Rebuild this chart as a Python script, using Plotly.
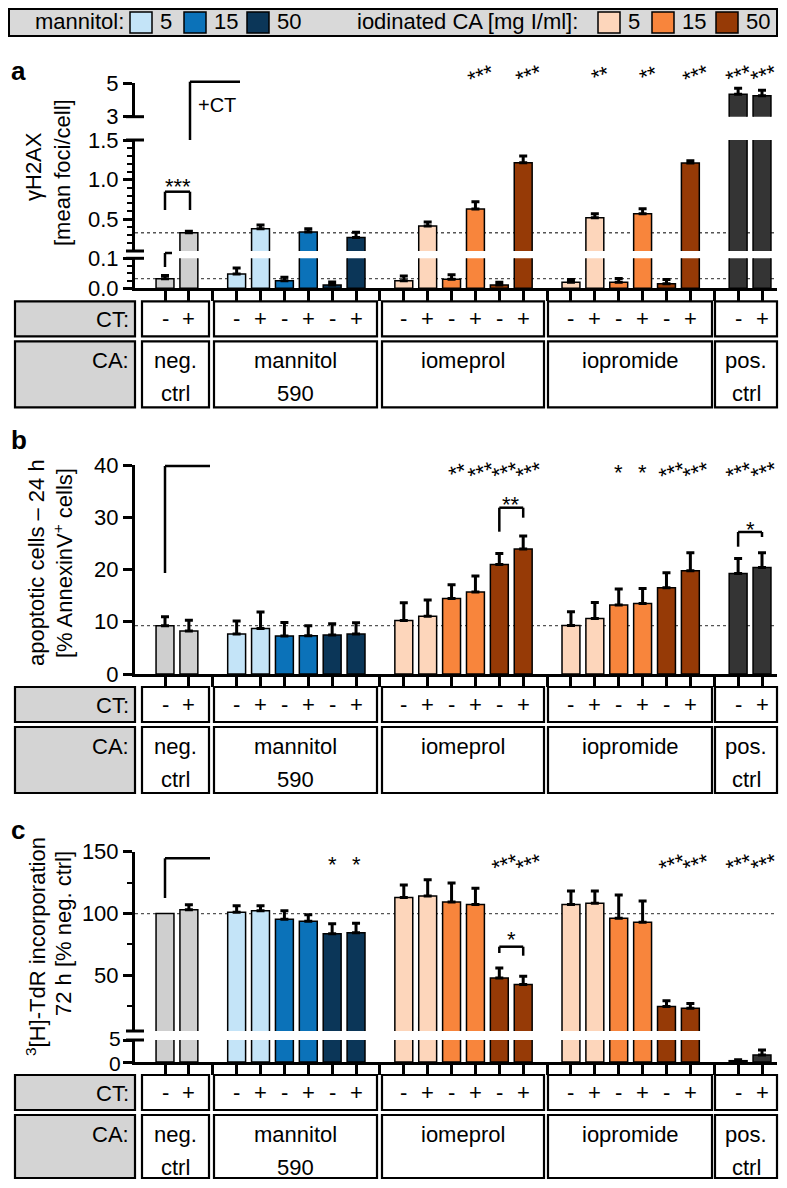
import plotly.graph_objects as go

# The page body has an 8px margin; keep the figure inside the body box so no scrolling happens.
OFF = 8
W, H = 787 - 2 * OFF, 1188 - 2 * OFF
FONT = "Liberation Sans, Arial, Helvetica, sans-serif"

# ---------------- data ----------------
groups = ["neg. ctrl", "mannitol 590", "iomeprol", "iopromide", "pos. ctrl"]
ct_labels = ["-", "+", "-", "+", "-", "+", "-", "+", "-", "+", "-", "+",
             "-", "+", "-", "+", "-", "+", "-", "+", "-", "+"]
bar_pos = [0, 1, 3, 4, 5, 6, 7, 8, 10, 11, 12, 13, 14, 15, 17, 18, 19, 20, 21, 22, 24, 25]
sep_pos = [2, 9, 16, 23]

gamma_h2ax = [0.032, 0.33, 0.048, 0.38, 0.025, 0.34, 0.011, 0.27,
              0.025, 0.415, 0.03, 0.63, 0.011, 1.213,
              0.02, 0.52, 0.02, 0.57, 0.015, 1.209,
              4.33, 4.25]
gamma_err = [0.011, 0.02, 0.02, 0.048, 0.012, 0.04, 0.01, 0.066,
             0.016, 0.051, 0.015, 0.09, 0.009, 0.084,
             0.009, 0.05, 0.013, 0.064, 0.014, 0.029,
             0.36, 0.32]

apoptosis = [9.24, 8.22, 7.65, 8.73, 7.27, 7.33, 7.46, 7.65,
             10.26, 11.03, 14.47, 15.68, 20.97, 23.9,
             9.3, 10.64, 13.19, 13.5, 16.5, 19.76,
             19.25, 20.4]
apoptosis_err = [1.72, 2.08, 2.48, 3.12, 2.61, 1.91, 2.16, 2.16,
                 3.38, 3.12, 2.61, 3.06, 2.1, 2.49,
                 2.62, 3.06, 3.06, 2.88, 2.87, 3.44,
                 2.87, 2.8]

thymidine = [100, 103, 101, 102.2, 95.4, 93.8, 83.7, 84.5,
             112.9, 114.2, 109.4, 107.2, 47.9, 42.6,
             107.2, 108.3, 96.2, 93.0, 24.9, 23.3,
             0.3, 1.6]
thymidine_err = [0, 4, 5.2, 4, 6.8, 5.2, 8, 7.7,
                 10.1, 13.2, 15.3, 13.2, 8.1, 6.7,
                 11.1, 10, 18.8, 17.2, 4.6, 4,
                 0.2, 1.1]

sig_a = {13: "***", 15: "***", 18: "**", 20: "**", 22: "***", 24: "***", 25: "***"}
sig_b = {12: "**", 13: "***", 14: "***", 15: "***", 19: "*", 20: "*", 21: "***", 22: "***", 24: "***", 25: "***"}
sig_c = {7: "*", 8: "*", 14: "***", 15: "***", 21: "***", 22: "***", 24: "***", 25: "***"}

GREY = "#cfcfcf"
M5, M15, M50 = "#c4e4f8", "#0b72b9", "#0b3658"
I5, I15, I50 = "#fdd6bb", "#f8853c", "#963a06"
POS = "#343434"
bar_colors = [GREY, GREY, M5, M5, M15, M15, M50, M50,
              I5, I5, I15, I15, I50, I50,
              I5, I5, I15, I15, I50, I50,
              POS, POS]

# ---------------- helpers (page pixel -> paper) ----------------
def P(x):
    return (x - OFF) / W


def Q(y):
    return 1 - (y - OFF) / H


X0PX, PITCH = 165.0, 23.88
XL, XR = 135.0, 777.0
xrange_ = [(XL - X0PX) / PITCH, (XR - X0PX) / PITCH]


def bx(v):
    return X0PX + PITCH * v


shapes = []
annots = []


def rect(x0, y0, x1, y1, fill="white", lw=2.2):
    shapes.append(dict(type="rect", xref="paper", yref="paper",
                       x0=P(x0), x1=P(x1), y0=Q(y1), y1=Q(y0),
                       line=dict(color="black", width=lw), fillcolor=fill, layer="above"))


def line(x0, y0, x1, y1, lw=2.5):
    shapes.append(dict(type="line", xref="paper", yref="paper",
                       x0=P(x0), x1=P(x1), y0=Q(y0), y1=Q(y1),
                       line=dict(color="black", width=lw), layer="above"))


def txt(x, y, s, size=22, xanchor="center", angle=0, bold=False):
    if bold:
        s = "<b>" + s + "</b>"
    annots.append(dict(x=P(x), y=Q(y), xref="paper", yref="paper", text=s,
                       showarrow=False, xanchor=xanchor, yanchor="middle",
                       textangle=angle, font=dict(family=FONT, size=size, color="black")))


fig = go.Figure()

# ---------------- axes ----------------
def yax(top, bot, rng, tickvals, ticktext, minor_vals, anchor, labels=True):
    d = dict(domain=[Q(bot), Q(top)], range=rng, anchor=anchor,
             showline=True, linewidth=3, linecolor="black",
             ticks="outside", ticklen=9, tickwidth=3, tickcolor="black",
             tickmode="array", tickvals=tickvals, ticktext=ticktext,
             showticklabels=labels,
             tickfont=dict(family=FONT, size=22, color="black"),
             showgrid=False, zeroline=False, automargin=False, fixedrange=True)
    if minor_vals:
        d["minor"] = dict(tickmode="array", tickvals=minor_vals, ticks="outside",
                          ticklen=5, tickwidth=2, tickcolor="black", showgrid=False)
    return d


def xax(anchor):
    return dict(domain=[P(XL), P(XR)], range=xrange_, anchor=anchor,
                showline=True, linewidth=3, linecolor="black",
                ticks="outside", ticklen=10, tickwidth=2.5, tickcolor="black",
                tickmode="array", tickvals=bar_pos + sep_pos, showticklabels=False,
                showgrid=False, zeroline=False, automargin=False, fixedrange=True)


layout_axes = dict(
    xaxis=xax("y"), xaxis2=xax("y4"), xaxis3=xax("y5"),
    yaxis=yax(258.3, 288.3, [0, 0.1], [0, 0.1], ["0.0", "0.1"], [0.025, 0.05, 0.075], "x"),
    yaxis2=yax(140, 251, [0.1, 1.5], [0.5, 1.0, 1.5], ["0.5", "1.0", "1.5"],
               [0.2, 0.3, 0.4, 0.6, 0.7, 0.8, 0.9, 1.1, 1.2, 1.3, 1.4], "x"),
    yaxis3=yax(83, 116.7, [3, 5], [3, 5], ["3", "5"], None, "x"),
    yaxis4=yax(465, 674, [0, 40], [0, 10, 20, 30, 40], ["0", "10", "20", "30", "40"], None, "x2"),
    yaxis5=yax(1040, 1062, [0, 5], [0, 5], ["0", "5"], None, "x3", labels=False),
    yaxis6=yax(851.7, 1031, [5, 150], [50, 100, 150], ["50", "100", "150"], [25, 75, 125], "x3"),
)


def add_panel(values, errs, xa, segs):
    # segs: list of (yaxis_id, lo, hi)
    for ya, lo, hi in segs:
        fig.add_trace(go.Bar(x=bar_pos, y=values, width=0.75, xaxis=xa, yaxis=ya,
                             marker=dict(color=bar_colors, line=dict(color="black", width=1.5)),
                             hoverinfo="skip", showlegend=False))
        sx, sy, se = [], [], []
        for p, v, e in zip(bar_pos, values, errs):
            if lo <= v < hi and e > 0:
                sx.append(p); sy.append(v); se.append(e)
        fig.add_trace(go.Scatter(x=sx, y=sy, xaxis=xa, yaxis=ya, mode="markers",
                                 marker=dict(size=1, color="rgba(0,0,0,0)"),
                                 error_y=dict(type="data", symmetric=False, array=se,
                                              arrayminus=[0] * len(se), thickness=3,
                                              width=4, color="black"),
                                 hoverinfo="skip", showlegend=False))


add_panel(gamma_h2ax, gamma_err, "x", [("y", 0, 0.1), ("y2", 0.1, 1.5), ("y3", 3, 5)])
add_panel(apoptosis, apoptosis_err, "x2", [("y4", 0, 40)])
add_panel(thymidine, thymidine_err, "x3", [("y5", 0, 5), ("y6", 5, 150)])

# dotted reference lines (neg. ctrl level)
for ya, v, xa in [("y", gamma_h2ax[0], "x"), ("y2", gamma_h2ax[1], "x"),
                  ("y4", apoptosis[0], "x2"), ("y6", thymidine[0], "x3")]:
    shapes.append(dict(type="line", xref=xa, yref=ya, x0=xrange_[0], x1=xrange_[1],
                       y0=v, y1=v, line=dict(color="#555555", width=1.3, dash="dot"),
                       layer="below"))

# axis break caps
for yb in [258.3, 251, 140, 116.7, 1040, 1031]:
    line(126, yb, 144, yb, lw=3)

# tick labels of the short lower segment of panel c (kept apart so they do not collide)
txt(123, 1063.5, "0", size=21, xanchor="right")
txt(123, 1038.5, "5", size=21, xanchor="right")

# ---------------- legend ----------------
rect(9, 9, 777, 36, fill="#d9d9d9", lw=2)
txt(33, 22, "mannitol:", xanchor="left")
for (sx, col, lab) in [(130, M5, "5"), (184, M15, "15"), (247, M50, "50"),
                       (598, I5, "5"), (652, I15, "15"), (716, I50, "50")]:
    rect(sx, 12, sx + 22, 33, fill=col, lw=1.5)
    txt(sx + 28, 22, lab, xanchor="left")
txt(355, 22, "iodinated CA [mg I/ml]:", xanchor="left")

# ---------------- tables ----------------
boxes = [(142, 209), (214, 377), (382, 544), (548, 712), (715, 777)]
ca_lines = [("neg.", "ctrl"), ("mannitol", "590"), ("iomeprol", ""), ("iopromide", ""), ("pos.", "ctrl")]


def table(Y0):
    bottom = min(Y0 + 119, 1178)
    rect(15, Y0 + 13, 135, Y0 + 48, fill="#d4d4d4")
    rect(15, Y0 + 53, 135, bottom, fill="#d4d4d4")
    txt(131, Y0 + 31, "CT:", xanchor="right")
    txt(131, Y0 + 72, "CA:", xanchor="right")
    for (a, b), (l1, l2) in zip(boxes, ca_lines):
        rect(a, Y0 + 13, b, Y0 + 48)
        rect(a, Y0 + 53, b, bottom)
        txt((a + b) / 2, Y0 + 72, l1)
        if l2:
            txt((a + b) / 2, Y0 + 105, l2)
    for p, s in zip(bar_pos, ct_labels):
        txt(bx(p), Y0 + 30, s)


table(288.3)
table(674)
table(1062)

# ---------------- titles & panel letters ----------------
txt(9, 71, "a", size=26, bold=True, xanchor="left")
txt(9, 440, "b", size=26, bold=True, xanchor="left")
txt(9, 830, "c", size=26, bold=True, xanchor="left")

txt(34, 167, "γH2AX", size=22, angle=-90)
txt(62, 173, "[mean foci/cell]", size=22, angle=-90)
txt(36, 563, "apoptotic cells – 24 h", size=22, angle=-90)
txt(63, 563, "[% AnnexinV<sup>+</sup> cells]", size=22, angle=-90)
txt(36, 947, "<sup>3</sup>[H]-TdR incorporation", size=22, angle=-90)
txt(63, 934, "72 h [% neg. ctrl]", size=22, angle=-90)

# ---------------- significance ----------------
def stars(sig, y):
    for idx, s in sig.items():
        off = 0 if len(s) == 1 else 6
        if idx == 24:
            off = 1
        xc = min(bx(idx) + off, 764)
        txt(xc, y + 6, s, size=22, angle=(0 if len(s) == 1 else -20))


stars(sig_a, 70)
stars(sig_b, 466)
stars(sig_c, 858)

# brackets panel a
line(165, 210, 165, 191.7); line(165, 191.7, 190, 191.7); line(190, 191.7, 190, 210)
txt(177.5, 186, "***", size=22)
line(165, 267, 165, 253); line(165, 253, 172, 253)
line(190, 140, 190, 81.7); line(190, 81.7, 240, 81.7)
txt(196, 105, "+CT", size=20, xanchor="left")

# brackets panel b
line(165, 573, 165, 466); line(165, 466, 210, 466)
line(bx(14), 531.7, bx(14), 507.7); line(bx(14), 507.7, bx(15), 507.7); line(bx(15), 507.7, bx(15), 517.7)
txt((bx(14) + bx(15)) / 2, 504, "**", size=22)
line(bx(24), 546.7, bx(24), 532); line(bx(24), 532, bx(25), 532); line(bx(25), 532, bx(25), 537)
txt((bx(24) + bx(25)) / 2, 529, "*", size=22)

# brackets panel c
line(165, 898, 165, 858.3); line(165, 858.3, 210, 858.3)
line(bx(14), 953, bx(14), 946.7); line(bx(14), 946.7, bx(15), 946.7); line(bx(15), 946.7, bx(15), 955.7)
txt((bx(14) + bx(15)) / 2, 940, "*", size=22)

fig.update_layout(width=W, height=H, margin=dict(l=0, r=0, t=0, b=0),
                  paper_bgcolor="white", plot_bgcolor="rgba(0,0,0,0)",
                  template="none", barmode="overlay", showlegend=False,
                  shapes=shapes, annotations=annots, **layout_axes)

fig.write_html("out.html")
